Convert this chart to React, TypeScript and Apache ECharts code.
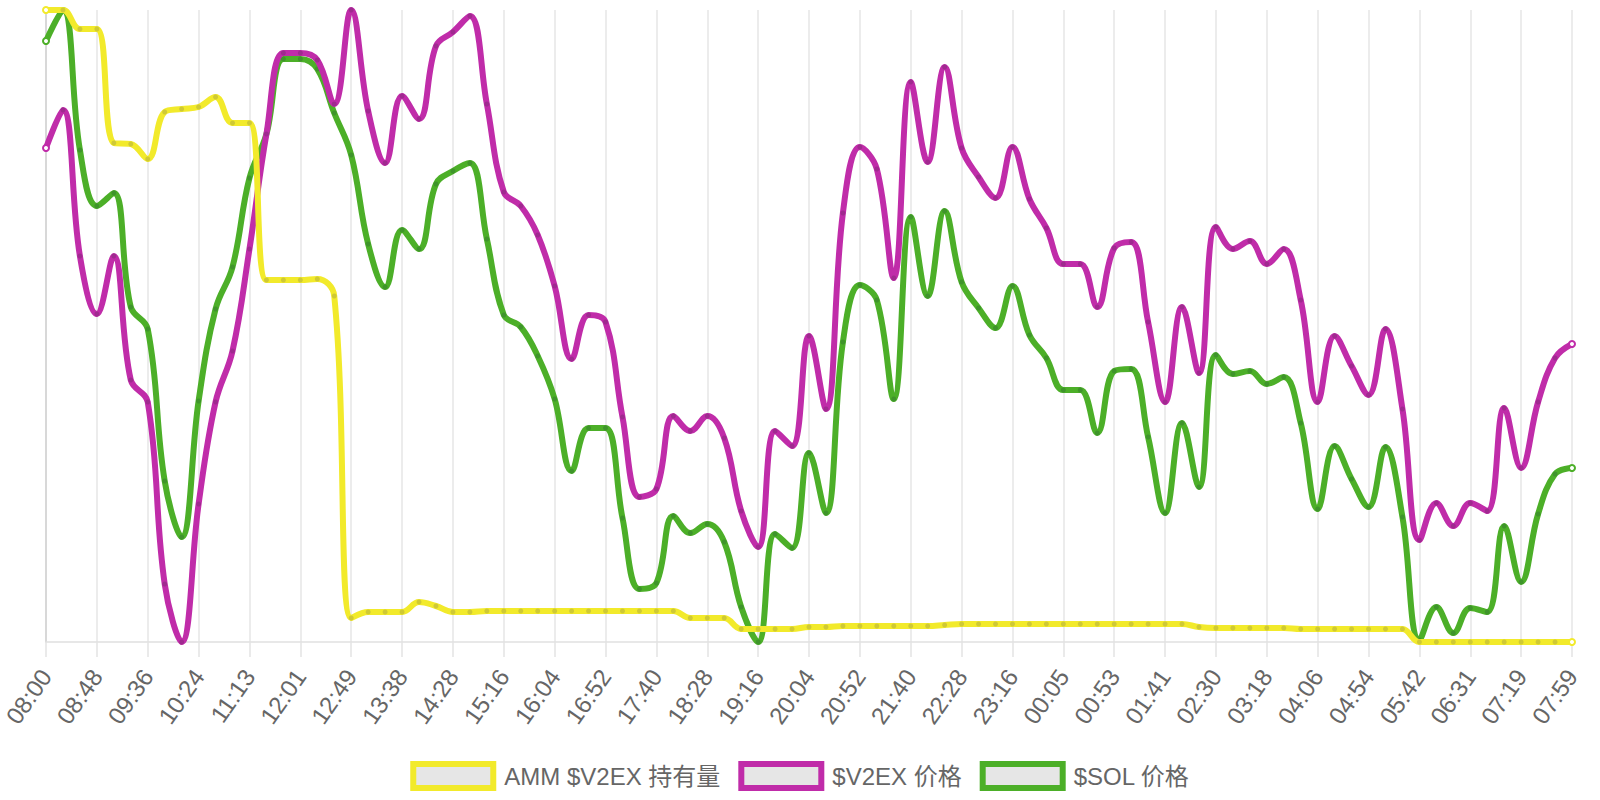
import React, { useEffect, useRef } from "react";
import * as echarts from "echarts";

const categories: string[] = [
  "08:00", "08:16", "08:32", "08:48", "09:04", "09:20", "09:36", "09:52", "10:08", "10:24",
  "10:40", "10:56", "11:13", "11:29", "11:45", "12:01", "12:17", "12:33", "12:49", "13:05",
  "13:21", "13:38", "13:54", "14:11", "14:28", "14:44", "15:00", "15:16", "15:32", "15:48",
  "16:04", "16:20", "16:36", "16:52", "17:08", "17:24", "17:40", "17:56", "18:12", "18:28",
  "18:44", "19:00", "19:16", "19:32", "19:48", "20:04", "20:20", "20:36", "20:52", "21:08",
  "21:24", "21:40", "21:56", "22:12", "22:28", "22:44", "23:00", "23:16", "23:32", "23:48",
  "00:05", "00:21", "00:37", "00:53", "01:09", "01:25", "01:41", "01:57", "02:13", "02:30",
  "02:46", "03:02", "03:18", "03:34", "03:50", "04:06", "04:22", "04:38", "04:54", "05:10",
  "05:26", "05:42", "05:58", "06:14", "06:31", "06:47", "07:03", "07:19", "07:35", "07:47",
  "07:59",
];

const seriesNames: string[] = ["AMM $V2EX 持有量", "$V2EX 价格", "$SOL 价格"];

const ammHoldings: number[] = [
  832, 832, 813, 813, 699, 698, 683, 730, 733, 735,
  745, 719, 719, 562, 562, 562, 563, 546, 224, 230,
  230, 230, 240, 236, 230, 230, 231, 231, 231, 231,
  231, 231, 231, 231, 231, 231, 231, 231, 224, 224,
  224, 213, 213, 213, 213, 215, 215, 216, 216, 216,
  216, 216, 216, 217, 218, 218, 218, 218, 218, 218,
  218, 218, 218, 218, 218, 218, 218, 218, 215, 214,
  214, 214, 214, 214, 213, 213, 213, 213, 213, 213,
  213, 200, 200, 200, 200, 200, 200, 200, 200, 200,
  200,
];

const v2exPrice: number[] = [
  0.694, 0.732, 0.586, 0.528, 0.586, 0.462, 0.44, 0.258, 0.2, 0.338,
  0.44, 0.491, 0.593, 0.708, 0.789, 0.789, 0.782, 0.738, 0.832, 0.731,
  0.679, 0.746, 0.723, 0.796, 0.81, 0.826, 0.738, 0.65, 0.636, 0.607,
  0.556, 0.483, 0.527, 0.52, 0.425, 0.345, 0.353, 0.426, 0.411, 0.426,
  0.404, 0.331, 0.295, 0.411, 0.396, 0.506, 0.433, 0.629, 0.695, 0.673,
  0.564, 0.76, 0.68, 0.775, 0.694, 0.665, 0.644, 0.695, 0.643, 0.614,
  0.578, 0.578, 0.535, 0.594, 0.6, 0.52, 0.44, 0.535, 0.469, 0.615,
  0.593, 0.601, 0.578, 0.593, 0.542, 0.44, 0.506, 0.476, 0.447, 0.513,
  0.433, 0.302, 0.339, 0.316, 0.339, 0.331, 0.434, 0.374, 0.44, 0.484,
  0.498,
];

const solPrice: number[] = [
  200.1, 203.2, 189.2, 183.6, 184.9, 173.5, 171.3, 156.1, 150.5, 164.1,
  173.3, 177.5, 186.4, 190.8, 198.3, 198.3, 197.3, 192.9, 188.7, 179.8,
  175.5, 181.2, 179.3, 185.8, 187.1, 187.9, 180.3, 172.7, 171.5, 168.6,
  164.3, 157.1, 161.4, 161.4, 152.4, 145.3, 145.9, 152.6, 150.9, 151.8,
  150.0, 143.5, 140.0, 150.8, 149.4, 158.9, 152.9, 170.0, 175.7, 174.2,
  164.3, 182.5, 174.6, 183.1, 176.0, 173.4, 171.4, 175.6, 170.7, 168.4,
  165.2, 165.2, 160.9, 167.1, 167.3, 160.5, 152.9, 161.9, 155.5, 168.7,
  166.8, 167.1, 165.8, 166.5, 161.9, 153.3, 159.6, 156.3, 153.5, 159.5,
  152.5, 140.2, 143.5, 140.9, 143.4, 143.0, 151.6, 146.0, 152.8, 156.8,
  157.4,
];

const lineColors = ["#f2ea2b", "#c02ca9", "#4caf28"];
const dotColors = ["#cfc934", "#9f2a8f", "#3f942b"];

const FONT = "'Liberation Sans', Arial, 'Noto Sans CJK SC', sans-serif";

function buildSeries(name: string, values: number[], idx: number, z: number) {
  const last = values.length - 1;
  return {
    type: "line",
    name,
    yAxisIndex: idx,
    z,
    smooth: 0.4,
    symbol: "circle",
    symbolSize: 5,
    showSymbol: true,
    showAllSymbol: true,
    lineStyle: { width: 6, color: lineColors[idx], cap: "round", join: "round" },
    itemStyle: { color: dotColors[idx] },
    emphasis: { disabled: true },
    data: values.map((v, i) =>
      i === 0 || i === last
        ? {
            value: v,
            symbolSize: 6,
            itemStyle: { color: "#ffffff", borderColor: lineColors[idx], borderWidth: 2 },
          }
        : v
    ),
  };
}

export default function App() {
  const ref = useRef<HTMLDivElement>(null);
  useEffect(() => {
    if (!ref.current) return;
    const chart = echarts.init(ref.current, null, { renderer: "svg" });
    const hiddenY = (show: boolean) => ({
      type: "value",
      min: "dataMin",
      max: "dataMax",
      show,
      position: "left",
      axisLine: { show, lineStyle: { color: "#d2d2d2", width: 1.5 } },
      axisTick: { show: false },
      axisLabel: { show: false },
      splitLine: { show: false },
    });
    chart.setOption({
      animation: false,
      backgroundColor: "#ffffff",
      grid: { left: 46, right: 28, top: 10, bottom: 158, containLabel: false },
      xAxis: {
        type: "category",
        data: categories,
        boundaryGap: false,
        axisLine: { show: true, lineStyle: { color: "#e0e0e0", width: 1.5 } },
        axisTick: {
          show: true,
          interval: 2,
          length: 15,
          lineStyle: { color: "#e3e3e3", width: 1.5 },
        },
        splitLine: {
          show: true,
          interval: 2,
          lineStyle: { color: "#e6e6e6", width: 1.5 },
        },
        axisLabel: {
          interval: 2,
          rotate: 55,
          margin: 30,
          color: "#666666",
          fontSize: 24,
          fontFamily: FONT,
        },
      },
      yAxis: [hiddenY(true), hiddenY(false), hiddenY(false)],
      legend: {
        top: 756,
        left: "center",
        itemWidth: 80,
        itemHeight: 24,
        itemGap: 18,
        selectedMode: false,
        textStyle: {
          color: "#666666",
          fontSize: 24,
          fontFamily: FONT,
          padding: [0, 0, 0, 6],
        },
        data: seriesNames.map((n, i) => ({
          name: n,
          icon: "rect",
          itemStyle: { color: "#e6e6e6", borderColor: lineColors[i], borderWidth: 6 },
        })),
      },
      series: [
        buildSeries(seriesNames[0], ammHoldings, 0, 4),
        buildSeries(seriesNames[1], v2exPrice, 1, 3),
        buildSeries(seriesNames[2], solPrice, 2, 2),
      ],
    });
    return () => chart.dispose();
  }, []);
  return (
    <div
      ref={ref}
      style={{ position: "fixed", left: 0, top: 0, width: 1600, height: 800 }}
    />
  );
}
